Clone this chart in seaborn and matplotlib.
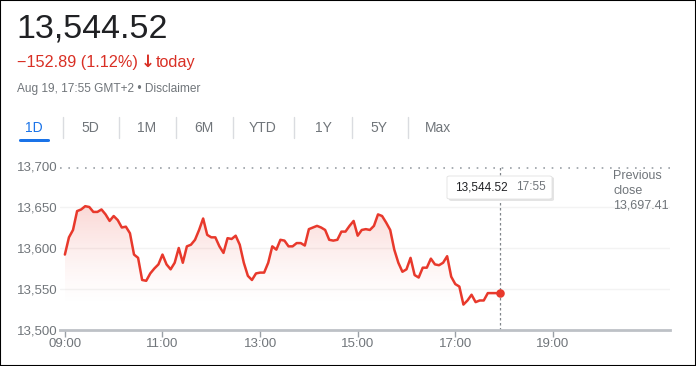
import numpy as np
import pandas as pd
import seaborn as sns
import matplotlib.pyplot as plt
import matplotlib.dates as mdates
from matplotlib.patches import FancyBboxPatch, Rectangle

# intraday prices, 5 minute steps from 09:00 to 17:55
prices = [13592, 13613, 13622, 13645, 13647, 13651, 13650, 13644, 13644, 13647,
          13641, 13633, 13639, 13634, 13625, 13626, 13618, 13592, 13588, 13561,
          13560, 13569, 13575, 13580, 13592, 13580, 13574, 13582, 13600, 13582,
          13602, 13604, 13610, 13622, 13636, 13616, 13613, 13613, 13602, 13594,
          13612, 13611, 13615, 13604, 13582, 13566, 13561, 13569, 13570, 13570,
          13582, 13602, 13598, 13610, 13609, 13602, 13602, 13606, 13606, 13603,
          13623, 13625, 13627, 13625, 13622, 13610, 13609, 13610, 13620, 13620,
          13627, 13633, 13615, 13622, 13623, 13622, 13627, 13641, 13639, 13631,
          13622, 13598, 13582, 13571, 13574, 13588, 13567, 13564, 13576, 13576,
          13587, 13580, 13579, 13582, 13590, 13565, 13556, 13553, 13531, 13536,
          13543, 13534, 13536, 13536, 13545, 13545, 13545, 13544.52]
start_time = "2019-08-19 09:00"
prev_close = 13697.41
yticks = [13500, 13550, 13600, 13650, 13700]
xtick_labels = ["09:00", "11:00", "13:00", "15:00", "17:00", "19:00"]
tabs = ["1D", "5D", "1M", "6M", "YTD", "1Y", "5Y", "Max"]
tab_x = [34, 90, 147, 204, 263, 323, 379, 438]
sep_x = [63, 119, 176, 233, 294, 352, 408]

df = pd.DataFrame({"time": pd.date_range(start_time, periods=len(prices), freq="5min"),
                   "price": prices})

sns.set_style("white")
plt.rcParams["font.family"] = ["Liberation Sans", "DejaVu Sans"]

RED = "#e8392c"
GREY = "#70757a"
W, H = 696, 366
fig = plt.figure(figsize=(W / 100, H / 100), dpi=100)

def fx(px):
    return px / W

def fy(py):
    return 1 - py / H

# border
fig.patches.append(Rectangle((0, 0), 1, 1, transform=fig.transFigure, fill=False,
                             edgecolor="black", linewidth=1.5))

# header
fig.text(fx(16), fy(29), "13,544.52", fontsize=24.5, color="#202124", va="center")
fig.text(fx(17), fy(62), "\u2212152.89 (1.12%)", fontsize=11.7, color="#d93025", va="center")
fig.text(fx(141), fy(62), "\u2193", fontsize=12, color="#d93025", va="center", fontweight="bold",
         family="DejaVu Sans")
fig.text(fx(156), fy(62), "today", fontsize=11.7, color="#d93025", va="center")
fig.text(fx(17), fy(89), "Aug 19, 17:55 GMT+2 \u2022 Disclaimer", fontsize=8.6, color=GREY, va="center")

for lbl, x in zip(tabs, tab_x):
    fig.text(fx(x), fy(128), lbl, fontsize=10, color="#1a73e8" if lbl == "1D" else GREY,
             ha="center", va="center")
for x in sep_x:
    fig.lines.append(plt.Line2D([fx(x), fx(x)], [fy(117), fy(138)], transform=fig.transFigure,
                                color="#dadce0", linewidth=1))
fig.patches.append(FancyBboxPatch((fx(19), fy(142)), fx(31), fy(139) - fy(142),
                                  boxstyle="round,pad=0,rounding_size=0.003",
                                  transform=fig.transFigure, color="#1a73e8", linewidth=0))

# chart axes
ax = fig.add_axes([fx(60), fy(330), fx(670) - fx(60), fy(166) - fy(330)])
t0 = df["time"].iloc[0]
xmin = t0 - pd.Timedelta(minutes=6)
xmax = t0 + pd.Timedelta(hours=12.4)

for v in yticks[1:-1]:
    ax.axhline(v, color="#f3f3f3", linewidth=1, zorder=0)
ax.axhline(prev_close, color="#9aa0a6", linewidth=1.2, linestyle=(0, (1, 4)), zorder=1)

# gradient fill under the line
xnum = mdates.date2num(df["time"])
poly = ax.fill_between(xnum, df["price"], 13500, color="none", linewidth=0)
grad = np.linspace(0, 1, 256).reshape(-1, 1)
rgba = np.zeros((256, 1, 4))
rgba[..., 0], rgba[..., 1], rgba[..., 2] = 0.91, 0.22, 0.17
rgba[..., 3] = 0.2 * grad ** 1.5
img = ax.imshow(rgba, aspect="auto", origin="lower", zorder=1,
                extent=[xnum[0], xnum[-1], 13525, max(prices)])
img.set_clip_path(poly.get_paths()[0], transform=ax.transData)

sns.lineplot(data=df, x="time", y="price", color=RED, linewidth=1.8, ax=ax, zorder=3)
last = df.iloc[-1]
ax.scatter([last["time"]], [last["price"]], s=38, color=RED, zorder=4, linewidths=0)
ax.axvline(last["time"], color="#80868b", linewidth=0.9, linestyle=(0, (2, 2)), zorder=2)

ax.set_xlim(xmin, xmax)
ax.set_ylim(13500, 13700)
ax.set_xlabel("")
ax.set_ylabel("")
ax.set_yticks(yticks)
ax.set_yticklabels([f"{v:,}" for v in yticks])
xt = [t0 + pd.Timedelta(hours=2 * i) for i in range(len(xtick_labels))]
ax.set_xticks(xt)
ax.set_xticklabels(xtick_labels)
ax.tick_params(axis="y", length=0, pad=2, labelsize=9.5, labelcolor=GREY)
ax.tick_params(axis="x", length=5, width=1, color="#9aa0a6", pad=1, labelsize=9.5,
               labelcolor=GREY, bottom=True)
for s in ["top", "right", "left"]:
    ax.spines[s].set_visible(False)
ax.spines["bottom"].set_color("#bdc1c6")
ax.spines["bottom"].set_linewidth(2)

# tooltip
fig.patches.append(FancyBboxPatch((fx(449), fy(201)), fx(105), fy(177) - fy(201),
                                  boxstyle="round,pad=0,rounding_size=0.004",
                                  transform=fig.transFigure, facecolor="#e4e4e4",
                                  edgecolor="none", zorder=5))
fig.patches.append(FancyBboxPatch((fx(447), fy(199)), fx(105), fy(176) - fy(199),
                                  boxstyle="round,pad=0,rounding_size=0.004",
                                  transform=fig.transFigure, facecolor="white",
                                  edgecolor="#e0e0e0", linewidth=0.6, zorder=5))
fig.text(fx(455), fy(187.5), "13,544.52", fontsize=8.5, color="#202124", va="center", zorder=6)
fig.text(fx(516), fy(187.5), "17:55", fontsize=8.5, color=GREY, va="center", zorder=6)

fig.text(fx(613), fy(176), "Previous", fontsize=9, color=GREY, va="center")
fig.text(fx(613), fy(191), "close", fontsize=9, color=GREY, va="center")
fig.text(fx(613), fy(206), f"{prev_close:,.2f}", fontsize=9, color=GREY, va="center")

fig.savefig("out.png", dpi=100)
